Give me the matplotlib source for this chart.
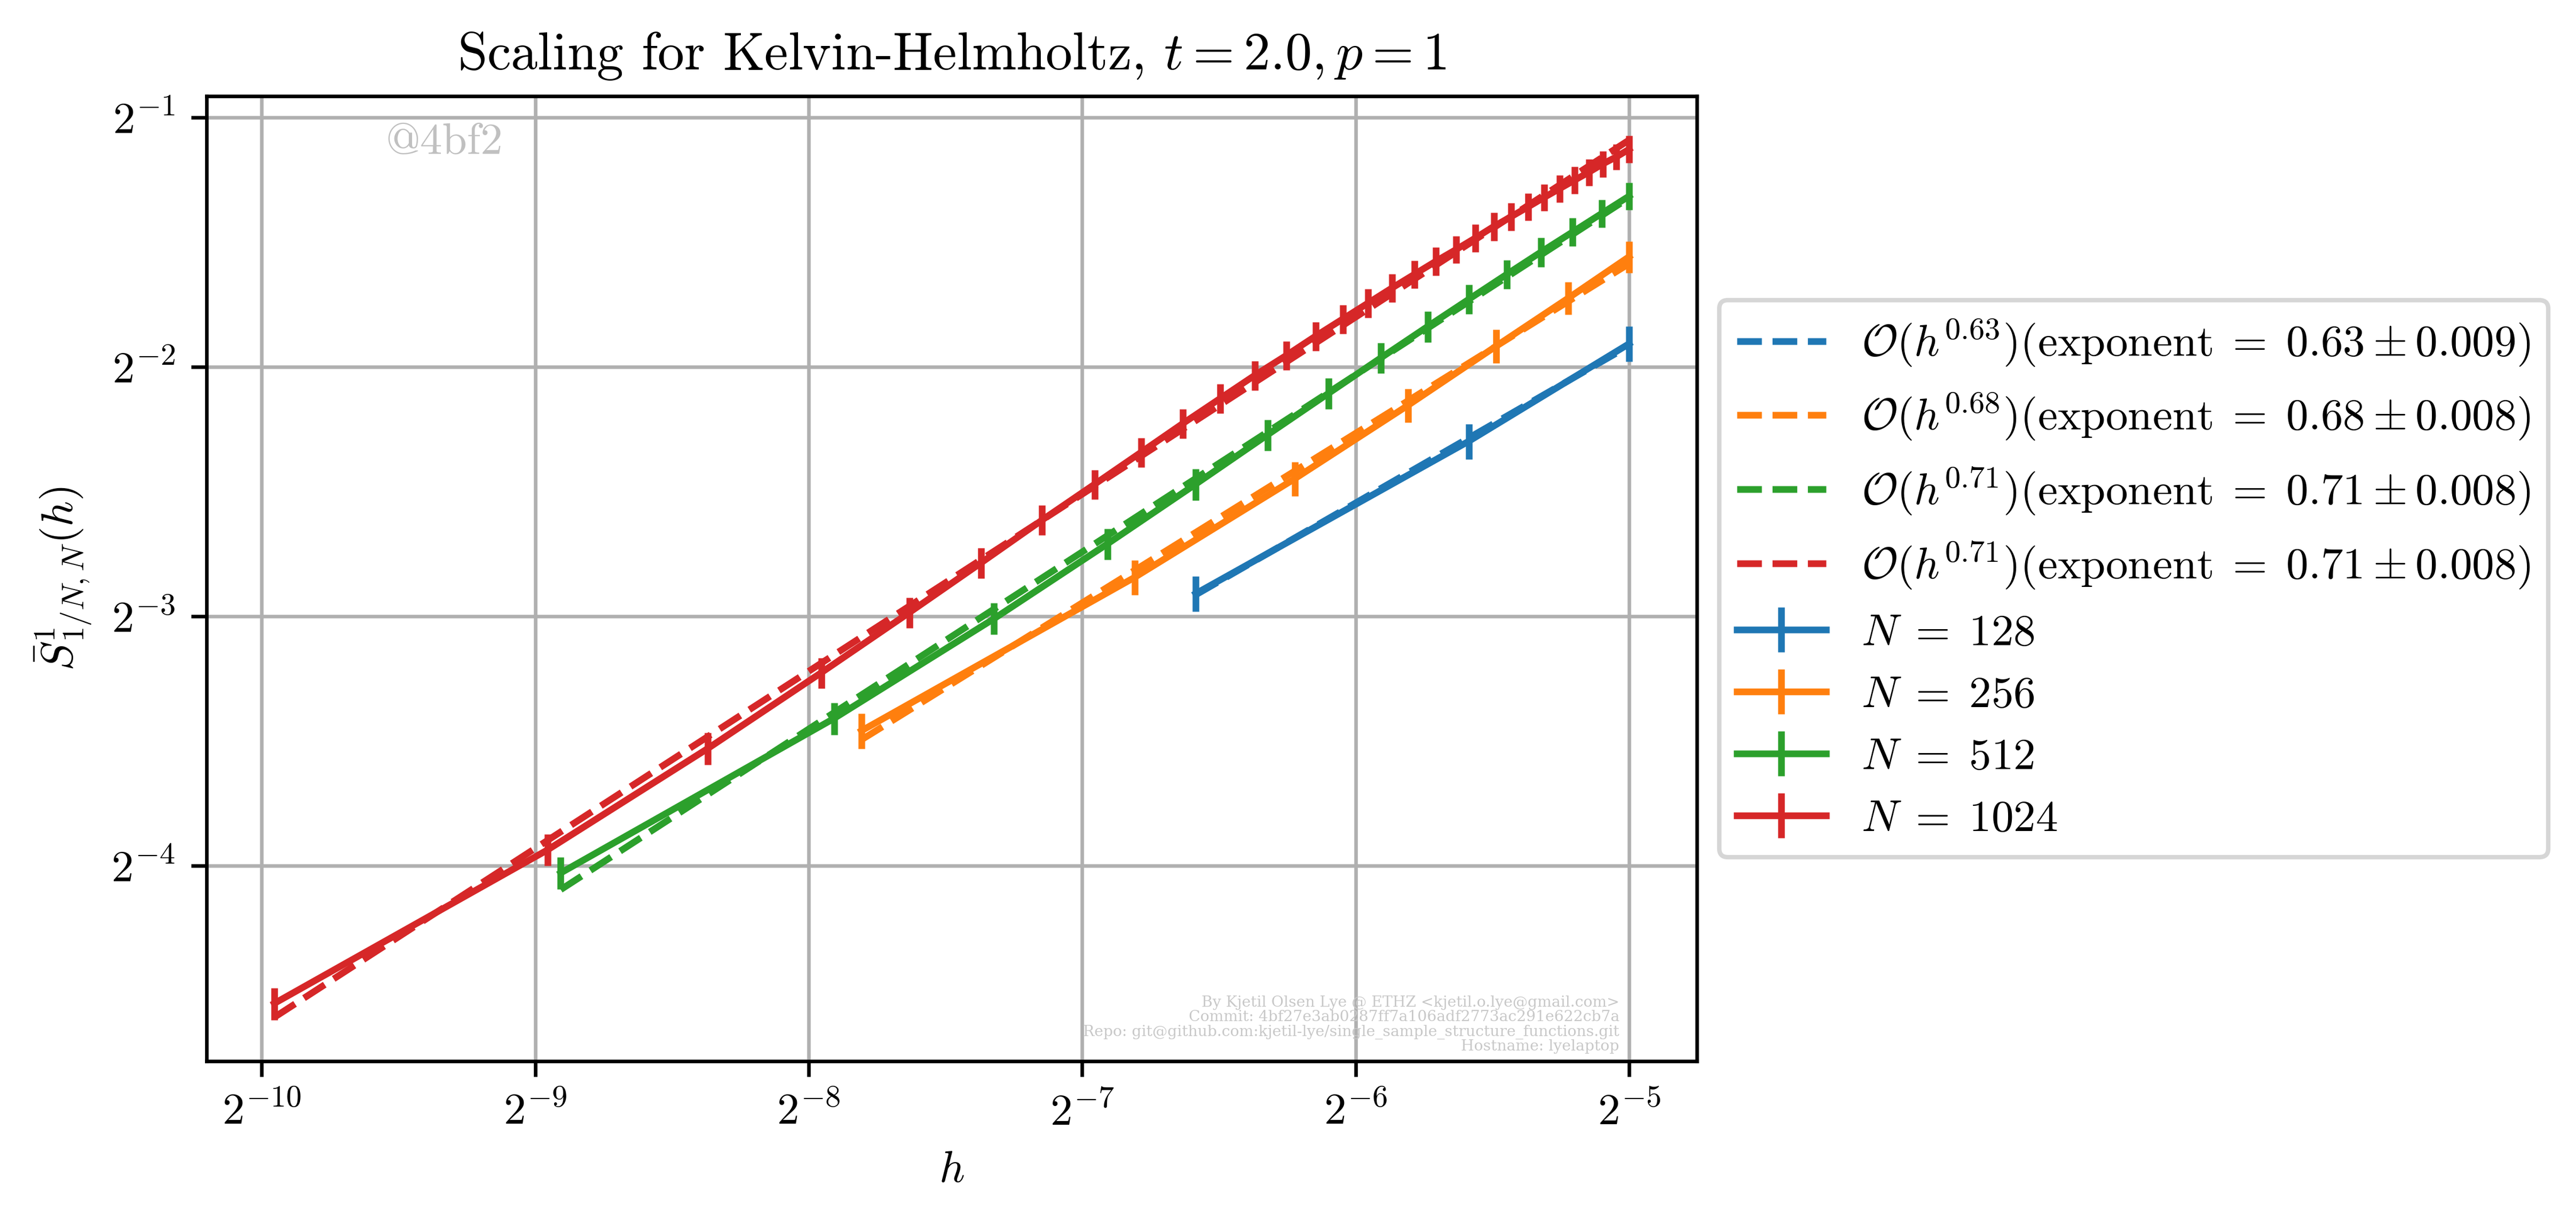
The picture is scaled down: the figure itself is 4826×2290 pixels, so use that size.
import numpy as np
import matplotlib
matplotlib.use('Agg')
import matplotlib.pyplot as plt

plt.rcParams.update({
    'font.family': 'serif',
    'font.serif': ['cmr10'],
    'mathtext.fontset': 'cm',
    'axes.unicode_minus': False,
    'axes.formatter.use_mathtext': True,
})

# ---------------- data ----------------
resolutions = [128, 256, 512, 1024]
colors = ['#1f77b4', '#ff7f0e', '#2ca02c', '#d62728']

# h = k / denom, k = 1 .. count   (evenly spaced h up to 2^-5)
h_denominators = [96, 224, 480, 992]
h_counts = [3, 7, 15, 31]

S_128 = [0.13314, 0.20348, 0.26665]
S_256 = [0.09094, 0.13936, 0.18326, 0.22484, 0.2650, 0.3027, 0.3396]
S_512 = [0.06126, 0.09414, 0.12422, 0.15295, 0.18049, 0.20704, 0.23227,
         0.2565, 0.2797, 0.3019, 0.3234, 0.3441, 0.3638, 0.3831, 0.4019]
S_1024 = [0.04263, 0.06534, 0.08657, 0.10688, 0.12631, 0.14509, 0.16334,
          0.18049, 0.19724, 0.21360, 0.22908, 0.24418, 0.2581, 0.2723,
          0.2856, 0.2986, 0.3114, 0.3235, 0.3354, 0.3465, 0.3578, 0.3694,
          0.3797, 0.3901, 0.4005, 0.4104, 0.4201, 0.4296, 0.4395, 0.4481,
          0.4578]

# relative standard errors (fraction of value)
rel_err_128 = [0.049, 0.049, 0.049]
rel_err_256 = [0.0491, 0.0481, 0.0477, 0.0466, 0.0461, 0.0450, 0.0440]
rel_err_512 = [0.0445, 0.0448, 0.0438, 0.0429, 0.0435, 0.0430, 0.0430,
               0.0418, 0.0424, 0.0409, 0.0403, 0.0403, 0.0393, 0.0382,
               0.0382]
rel_err_1024 = [0.0445, 0.0437, 0.0448, 0.0424, 0.0419, 0.0424, 0.0415,
                0.0409, 0.0409, 0.0409, 0.0407, 0.0409, 0.0403, 0.0398,
                0.0398, 0.0398, 0.0398, 0.0382, 0.0393, 0.0382, 0.0388,
                0.0388, 0.0382, 0.0382, 0.0372, 0.0372, 0.0377, 0.0372,
                0.0367, 0.0356, 0.0377]

fit_exponents = [0.63, 0.68, 0.71, 0.71]
fit_exponent_errors = [0.009, 0.008, 0.008, 0.008]

S_values = [S_128, S_256, S_512, S_1024]
rel_errs = [rel_err_128, rel_err_256, rel_err_512, rel_err_1024]

# ---------------- figure ----------------
W, H, DPI = 4826, 2290, 600
fig = plt.figure(figsize=(W / DPI, H / DPI), dpi=DPI)
ax = fig.add_axes([387 / W, 1 - 1987 / H, 2792 / W, 1807 / H])
ax.set_xscale('log', base=2)
ax.set_yscale('log', base=2)

for N, c, denom, cnt, S, rel, p, perr in zip(resolutions, colors,
                                               h_denominators, h_counts,
                                               S_values, rel_errs,
                                               fit_exponents,
                                               fit_exponent_errors):
    h = np.arange(1, cnt + 1) / denom
    S = np.asarray(S)
    yerr = S * np.asarray(rel)
    ax.errorbar(h, S, yerr=yerr, color=c, label=r'$N\;=\;%d$' % N)
    # least-squares intercept in log space for the reported exponent
    logc = np.mean(np.log2(S)) - p * np.mean(np.log2(h))
    fit = 2.0 ** (logc + p * np.log2(h))
    ax.plot(h, fit, '--', color=c,
            label=r'$\mathcal{O}(h^{%.2f})(\mathrm{exponent}\;=\;%.2f\pm %.3f)$'
            % (p, p, perr))

ax.grid(True)
ax.set_title(r'Scaling for Kelvin-Helmholtz, $t=2.0, p=1$')
ax.set_xlabel(r'$h$')
ax.set_ylabel(r'$\bar{S}^1_{1/N,N}(h)$')

ax.legend(loc='center left', bbox_to_anchor=(1, 0.5))

ax.text(0.12, 0.972, '@4bf2', transform=ax.transAxes, color='#c0c0c0',
        ha='left', va='top', fontsize=10)
ax.text(0.948, 0.008,
        'By Kjetil Olsen Lye @ ETHZ <kjetil.o.lye@gmail.com>\n'
        'Commit: 4bf27e3ab0287ff7a106adf2773ac291e622cb7a\n'
        'Repo: git@github.com:kjetil-lye/single_sample_structure_functions.git\n'
        'Hostname: lyelaptop',
        transform=ax.transAxes, color='#c8c8c8', ha='right', va='bottom',
        multialignment='right', fontsize=3.4, linespacing=1.0,
        family=['DejaVu Serif'])

fig.savefig('out.png', dpi=DPI)
